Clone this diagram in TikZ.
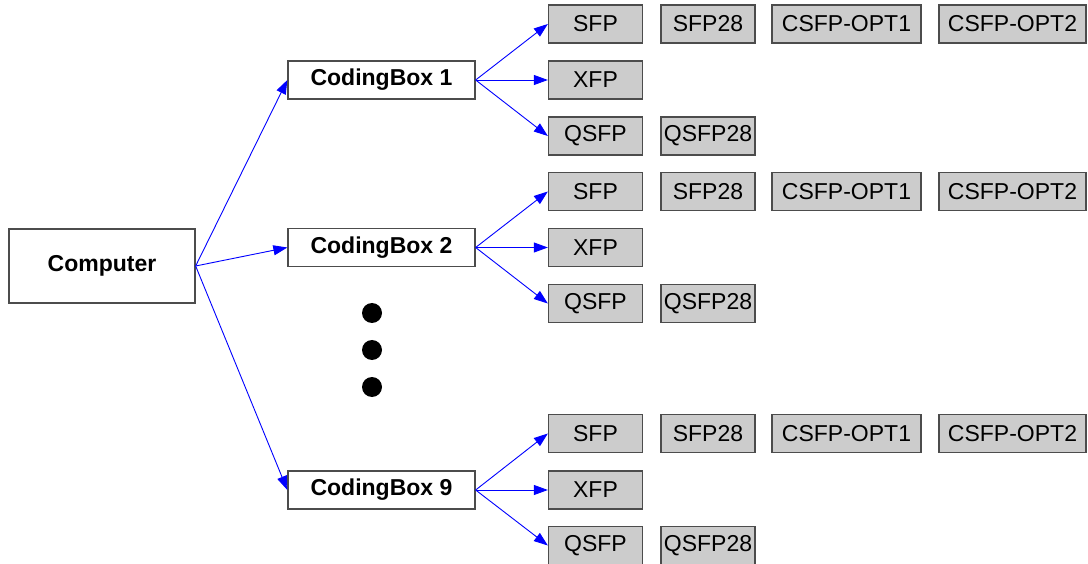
\documentclass[tikz,border=0pt]{standalone}
\usepackage{fontspec}
\setmainfont{Liberation Sans}
\usetikzlibrary{arrows.meta}
\tikzset{
  base/.style={draw=black!70, line width=1.3pt, inner sep=0pt, font=\fontsize{23}{24}\selectfont},
  whitebox/.style={base, fill=white, font=\fontsize{23}{24}\selectfont\bfseries, minimum width=187pt, minimum height=38pt},
  graybox/.style={base, fill=black!20, minimum width=94pt, minimum height=38pt},
  widebox/.style={graybox, minimum width=149pt},
  link/.style={draw=blue, line width=0.9pt, -{Triangle[length=14pt,width=10pt]}},
  dot/.style={circle, fill=black, inner sep=0pt, minimum size=20pt}
}
\begin{document}
\begin{tikzpicture}[x=1pt,y=-1pt]
\useasboundingbox (0,0) rectangle (1088,564);
\node[whitebox, minimum width=186pt, minimum height=74pt] (comp) at (102,266) {Computer};
\node[whitebox] (cb1) at (381.5,80) {CodingBox 1};
\node[whitebox] (cb2) at (381.5,247.5) {CodingBox 2};
\node[whitebox] (cb9) at (381.5,490) {CodingBox 9};
\foreach \g/\ys/\yx/\yq in {1/24/80/136, 2/191.5/247.5/303.5, 9/433.5/490/545.5} {
  \node[graybox] (sfp\g) at (595.5,\ys) {SFP};
  \node[graybox] (sfpt\g) at (708,\ys) {SFP28};
  \node[widebox] (opta\g) at (846.5,\ys) {CSFP-OPT1};
  \node[widebox, minimum width=147pt] (optb\g) at (1012.5,\ys) {CSFP-OPT2};
  \node[graybox] (xfp\g) at (595.5,\yx) {XFP};
  \node[graybox] (qsfp\g) at (595.5,\yq) {QSFP};
  \node[graybox] (qsfpt\g) at (708,\yq) {QSFP28};
  \draw[link] (cb\g.east) -- (sfp\g.west);
  \draw[link] (cb\g.east) -- (xfp\g.west);
  \draw[link] (cb\g.east) -- (qsfp\g.west);
}
\draw[link] (comp.east) -- (cb1.west);
\draw[link] (comp.east) -- (cb2.west);
\draw[link] (comp.east) -- (cb9.west);
\node[dot] (d1) at (372,313) {};
\node[dot] (d2) at (372,350) {};
\node[dot] (d3) at (372,387) {};
\end{tikzpicture}
\end{document}
